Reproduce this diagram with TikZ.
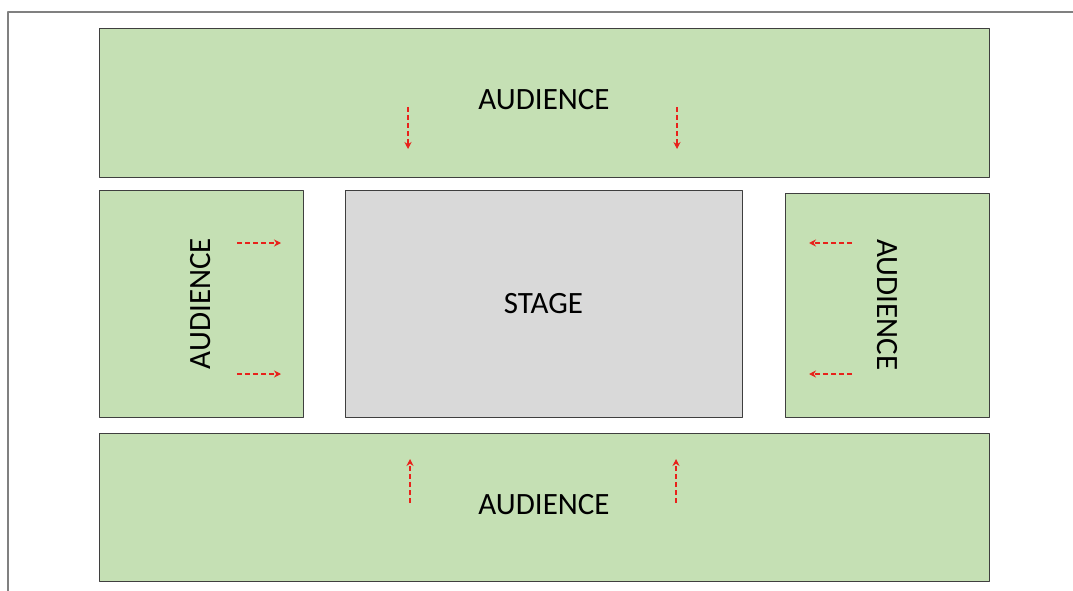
\documentclass[tikz,border=0pt]{standalone}
\usepackage{fontspec}
\setmainfont{Carlito}
\usetikzlibrary{arrows.meta}

\definecolor{publikum}{HTML}{C5E0B4}
\definecolor{buehne}{HTML}{D9D9D9}
\definecolor{rahmen}{HTML}{3F3F3F}
\definecolor{pfeilrot}{HTML}{E8221B}

\tikzset{
  feld/.style={draw=rahmen, line width=0.9pt, inner sep=0pt,
    font=\fontsize{31}{37}\selectfont, text=black},
  blick/.style={->, pfeilrot, line width=1.1pt, dash pattern=on 5pt off 3pt}
}

\begin{document}
\begin{tikzpicture}[x=1pt, y=-1pt, >={Stealth[length=7pt,width=7pt]}, line join=round]

  % Bildgroesse festlegen
  \useasboundingbox (0,0) rectangle (1073,591);

  % Rahmen (nur oben und links sichtbar)
  \draw[gray, line width=2pt] (8,591) -- (8,12) -- (1073,12);

  % Publikum oben und unten
  \node[feld, fill=publikum, minimum width=890pt, minimum height=149pt] (oben) at (544,102.5) {\raisebox{6pt}{AUDIENCE}};
  \node[feld, fill=publikum, minimum width=890pt, minimum height=148pt] (unten) at (544,507) {\raisebox{6pt}{AUDIENCE}};

  % Publikum links und rechts
  \node[feld, fill=publikum, minimum width=204pt, minimum height=227pt] (links) at (201,303.5) {\rotatebox{90}{AUDIENCE}};
  \node[feld, fill=publikum, minimum width=204pt, minimum height=224pt] (rechts) at (887,305) {\rotatebox{-90}{AUDIENCE}};

  % Buehne in der Mitte
  \node[feld, fill=buehne, minimum width=397pt, minimum height=227pt] (buehne) at (543.5,303.5) {STAGE};

  % Blickrichtung oben / unten
  \foreach \x/\u [count=\i] in {408/410, 677/676} {
    \coordinate (oa\i) at (\x,107);  \coordinate (ob\i) at (\x,149);
    \coordinate (ua\i) at (\u,503);  \coordinate (ub\i) at (\u,459);
    \draw[blick] (oa\i) -- (ob\i);
    \draw[blick] (ua\i) -- (ub\i);
  }

  % Blickrichtung links / rechts
  \foreach \y [count=\i] in {243,374} {
    \coordinate (la\i) at (237,\y);  \coordinate (lb\i) at (281,\y);
    \coordinate (ra\i) at (852,\y);  \coordinate (rb\i) at (809,\y);
    \draw[blick] (la\i) -- (lb\i);
    \draw[blick] (ra\i) -- (rb\i);
  }

\end{tikzpicture}
\end{document}
